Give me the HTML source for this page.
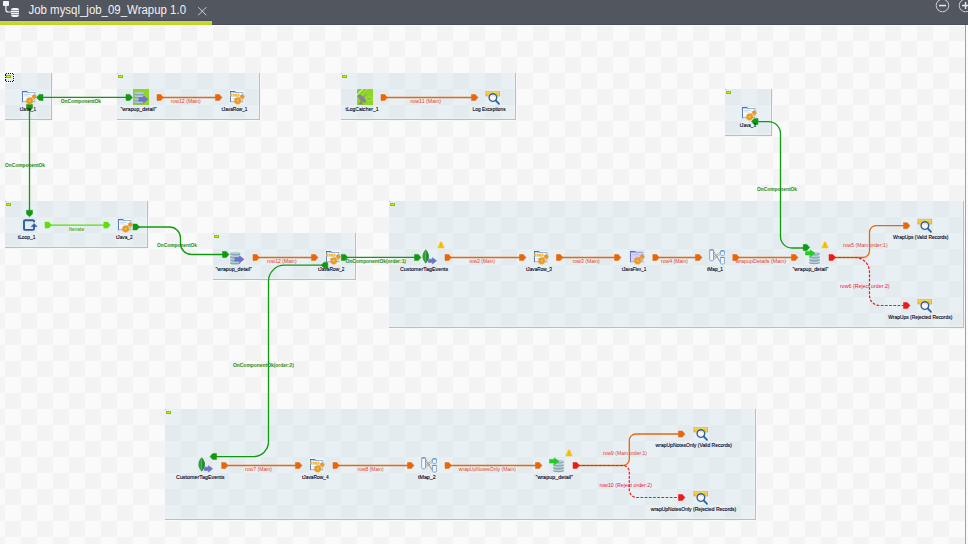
<!DOCTYPE html>
<html><head><meta charset="utf-8"><title>Job mysql_job_09_Wrapup 1.0</title>
<style>html,body{margin:0;padding:0;background:#f9f9f9;overflow:hidden;width:968px;height:544px}svg{display:block}</style>
</head><body>
<svg width="968" height="544" viewBox="0 0 968 544">
<defs>
<pattern id="chk" x="5" y="25" width="32" height="32" patternUnits="userSpaceOnUse">
<rect width="32" height="32" fill="#fafafa"/><rect x="16" width="16" height="16" fill="#f3f3f3"/><rect y="16" width="16" height="16" fill="#f3f3f3"/>
</pattern>
<pattern id="bchk" x="5" y="25" width="32" height="32" patternUnits="userSpaceOnUse">
<rect width="32" height="32" fill="#e9f0f4"/><rect x="16" width="16" height="16" fill="#e4ebef"/><rect y="16" width="16" height="16" fill="#e4ebef"/>
</pattern>
<linearGradient id="gbar" x1="0" y1="0" x2="0" y2="1"><stop offset="0" stop-color="#c8df2c"/><stop offset="1" stop-color="#bdd424"/></linearGradient>
</defs>
<rect x="0" y="25" width="968" height="519" fill="url(#chk)"/>
<rect x="965" y="25" width="1" height="519" fill="#a2a2a2"/>
<rect x="966" y="25" width="2" height="519" fill="#fbfbfb"/>
<rect x="0" y="0" width="968" height="25" fill="#52565f"/>
<rect x="0" y="20" width="212" height="1" fill="#4a4c66"/>
<rect x="0" y="21" width="212" height="4" fill="url(#gbar)"/>
<rect x="212" y="24" width="756" height="1" fill="#4a4d5a"/>
<rect x="0" y="25" width="965" height="1" fill="#fafafd"/>
<rect x="3" y="1" width="6" height="5" rx="0.8" fill="#f4f4f4"/>
<path d="M5.9,6 V10 Q5.9,12 8.5,12 H11" fill="none" stroke="#f4f4f4" stroke-width="1.2"/>
<rect x="11" y="8" width="8" height="9" rx="2.2" fill="#f4f4f4"/>
<rect x="11" y="10.3" width="8" height="0.6" fill="#595c66"/>
<rect x="11" y="12.3" width="8" height="0.6" fill="#595c66"/>
<rect x="11" y="14.3" width="8" height="0.6" fill="#595c66"/>
<text x="28.5" y="14" font-family='"Liberation Sans", sans-serif' font-size="12.5" fill="#f2f2f2" textLength="157.5" lengthAdjust="spacingAndGlyphs">Job mysql_job_09_Wrapup 1.0</text>
<path d="M198.3,7.2 L206.3,15.2 M206.3,7.2 L198.3,15.2" stroke="#d2d2d4" stroke-width="1"/>
<circle cx="942.5" cy="5.5" r="6.3" fill="none" stroke="#cfd0d3" stroke-width="1"/>
<rect x="939" y="4.8" width="7" height="1.5" fill="#e8e8e8"/>
<circle cx="965.5" cy="5.5" r="6.3" fill="none" stroke="#cfd0d3" stroke-width="1"/>
<rect x="962" y="4.8" width="7" height="1.5" fill="#e8e8e8"/>
<rect x="964.8" y="2" width="1.5" height="7" fill="#e8e8e8"/>
<rect x="5" y="73" width="47" height="47" fill="url(#bchk)"/>
<rect x="50" y="73" width="1" height="46" fill="#edf2f5" opacity="0.8"/>
<rect x="5" y="118" width="46" height="1" fill="#edf2f5" opacity="0.8"/>
<rect x="51" y="73" width="1" height="47" fill="#adc2cf"/>
<rect x="5" y="119" width="47" height="1" fill="#adc2cf"/>
<rect x="5" y="73" width="1" height="1" fill="#b0c4d0"/>
<rect x="6" y="75" width="5" height="3" rx="0.6" fill="#86c000"/>
<rect x="7" y="76" width="3" height="1" fill="#c4ff10"/>
<rect x="117" y="73" width="143" height="47" fill="url(#bchk)"/>
<rect x="258" y="73" width="1" height="46" fill="#edf2f5" opacity="0.8"/>
<rect x="117" y="118" width="142" height="1" fill="#edf2f5" opacity="0.8"/>
<rect x="259" y="73" width="1" height="47" fill="#adc2cf"/>
<rect x="117" y="119" width="143" height="1" fill="#adc2cf"/>
<rect x="117" y="73" width="1" height="1" fill="#b0c4d0"/>
<rect x="118" y="75" width="5" height="3" rx="0.6" fill="#86c000"/>
<rect x="119" y="76" width="3" height="1" fill="#c4ff10"/>
<rect x="341" y="73" width="175" height="47" fill="url(#bchk)"/>
<rect x="514" y="73" width="1" height="46" fill="#edf2f5" opacity="0.8"/>
<rect x="341" y="118" width="174" height="1" fill="#edf2f5" opacity="0.8"/>
<rect x="515" y="73" width="1" height="47" fill="#adc2cf"/>
<rect x="341" y="119" width="175" height="1" fill="#adc2cf"/>
<rect x="341" y="73" width="1" height="1" fill="#b0c4d0"/>
<rect x="342" y="75" width="5" height="3" rx="0.6" fill="#86c000"/>
<rect x="343" y="76" width="3" height="1" fill="#c4ff10"/>
<rect x="725" y="89" width="47" height="47" fill="url(#bchk)"/>
<rect x="770" y="89" width="1" height="46" fill="#edf2f5" opacity="0.8"/>
<rect x="725" y="134" width="46" height="1" fill="#edf2f5" opacity="0.8"/>
<rect x="771" y="89" width="1" height="47" fill="#adc2cf"/>
<rect x="725" y="135" width="47" height="1" fill="#adc2cf"/>
<rect x="725" y="89" width="1" height="1" fill="#b0c4d0"/>
<rect x="726" y="91" width="5" height="3" rx="0.6" fill="#86c000"/>
<rect x="727" y="92" width="3" height="1" fill="#c4ff10"/>
<rect x="5" y="201" width="143" height="47" fill="url(#bchk)"/>
<rect x="146" y="201" width="1" height="46" fill="#edf2f5" opacity="0.8"/>
<rect x="5" y="246" width="142" height="1" fill="#edf2f5" opacity="0.8"/>
<rect x="147" y="201" width="1" height="47" fill="#adc2cf"/>
<rect x="5" y="247" width="143" height="1" fill="#adc2cf"/>
<rect x="5" y="201" width="1" height="1" fill="#b0c4d0"/>
<rect x="6" y="203" width="5" height="3" rx="0.6" fill="#86c000"/>
<rect x="7" y="204" width="3" height="1" fill="#c4ff10"/>
<rect x="213" y="233" width="143" height="47" fill="url(#bchk)"/>
<rect x="354" y="233" width="1" height="46" fill="#edf2f5" opacity="0.8"/>
<rect x="213" y="278" width="142" height="1" fill="#edf2f5" opacity="0.8"/>
<rect x="355" y="233" width="1" height="47" fill="#adc2cf"/>
<rect x="213" y="279" width="143" height="1" fill="#adc2cf"/>
<rect x="213" y="233" width="1" height="1" fill="#b0c4d0"/>
<rect x="214" y="235" width="5" height="3" rx="0.6" fill="#86c000"/>
<rect x="215" y="236" width="3" height="1" fill="#c4ff10"/>
<rect x="389" y="201" width="575" height="127" fill="url(#bchk)"/>
<rect x="962" y="201" width="1" height="126" fill="#edf2f5" opacity="0.8"/>
<rect x="389" y="326" width="574" height="1" fill="#edf2f5" opacity="0.8"/>
<rect x="963" y="201" width="1" height="127" fill="#adc2cf"/>
<rect x="389" y="327" width="575" height="1" fill="#adc2cf"/>
<rect x="389" y="201" width="1" height="1" fill="#b0c4d0"/>
<rect x="390" y="203" width="5" height="3" rx="0.6" fill="#86c000"/>
<rect x="391" y="204" width="3" height="1" fill="#c4ff10"/>
<rect x="165" y="409" width="591" height="111" fill="url(#bchk)"/>
<rect x="754" y="409" width="1" height="110" fill="#edf2f5" opacity="0.8"/>
<rect x="165" y="518" width="590" height="1" fill="#edf2f5" opacity="0.8"/>
<rect x="755" y="409" width="1" height="111" fill="#adc2cf"/>
<rect x="165" y="519" width="591" height="1" fill="#adc2cf"/>
<rect x="165" y="409" width="1" height="1" fill="#b0c4d0"/>
<rect x="166" y="411" width="5" height="3" rx="0.6" fill="#86c000"/>
<rect x="167" y="412" width="3" height="1" fill="#c4ff10"/>
<rect x="5" y="73" width="9" height="9" fill="none" stroke="#ffffff" stroke-width="1.2" opacity="0.8"/>
<rect x="6" y="73" width="1" height="1" fill="#101010"/>
<rect x="8" y="73" width="1" height="1" fill="#101010"/>
<rect x="10" y="73" width="1" height="1" fill="#101010"/>
<rect x="12" y="73" width="1" height="1" fill="#101010"/>
<rect x="6" y="81" width="1" height="1" fill="#101010"/>
<rect x="8" y="81" width="1" height="1" fill="#101010"/>
<rect x="10" y="81" width="1" height="1" fill="#101010"/>
<rect x="12" y="81" width="1" height="1" fill="#101010"/>
<rect x="5" y="75" width="1" height="1" fill="#101010"/>
<rect x="5" y="77" width="1" height="1" fill="#101010"/>
<rect x="5" y="79" width="1" height="1" fill="#101010"/>
<rect x="13" y="74" width="1" height="1" fill="#101010"/>
<rect x="13" y="76" width="1" height="1" fill="#101010"/>
<rect x="13" y="78" width="1" height="1" fill="#101010"/>
<rect x="13" y="80" width="1" height="1" fill="#101010"/>
<rect x="5" y="80" width="1" height="1" fill="#101010"/>
<rect x="5" y="74" width="1" height="1" fill="#101010"/>
<path d="M42,97.4 H127" fill="none" stroke="#109a10" stroke-width="1.3"/>
<polygon points="43.0,94.4 39.2,94.4 36.5,97.4 39.2,100.4 43.0,100.4" fill="#109a10" stroke="#109a10" stroke-width="0.5" stroke-linejoin="round"/>
<polygon points="126.0,94.4 129.8,94.4 132.5,97.4 129.8,100.4 126.0,100.4" fill="#109a10" stroke="#109a10" stroke-width="0.5" stroke-linejoin="round"/>
<path d="M29.5,108 V211" fill="none" stroke="#109a10" stroke-width="1.3"/>
<polygon points="26.5,104.5 26.5,108.3 29.5,111.0 32.5,108.3 32.5,104.5" fill="#109a10" stroke="#109a10" stroke-width="0.5" stroke-linejoin="round"/>
<polygon points="26.5,210.3 26.5,214.1 29.5,216.8 32.5,214.1 32.5,210.3" fill="#109a10" stroke="#109a10" stroke-width="0.5" stroke-linejoin="round"/>
<path d="M50,225.1 H105.3" fill="none" stroke="#5ede0c" stroke-width="1.3"/>
<polygon points="45.0,222.1 48.8,222.1 51.5,225.1 48.8,228.1 45.0,228.1" fill="#5ede0c" stroke="#5ede0c" stroke-width="0.5" stroke-linejoin="round"/>
<polygon points="103.8,222.1 107.6,222.1 110.3,225.1 107.6,228.1 103.8,228.1" fill="#5ede0c" stroke="#5ede0c" stroke-width="0.5" stroke-linejoin="round"/>
<path d="M138,227 H169.5 A11,11 0 0 1 180.5,238 V243.5 A11,11 0 0 0 191.5,254.5 H223" fill="none" stroke="#109a10" stroke-width="1.3"/>
<polygon points="133.0,224.0 136.8,224.0 139.5,227.0 136.8,230.0 133.0,230.0" fill="#109a10" stroke="#109a10" stroke-width="0.5" stroke-linejoin="round"/>
<polygon points="222.5,251.5 226.3,251.5 229.0,254.5 226.3,257.5 222.5,257.5" fill="#109a10" stroke="#109a10" stroke-width="0.5" stroke-linejoin="round"/>
<path d="M346,257.4 H415" fill="none" stroke="#109a10" stroke-width="1.3"/>
<polygon points="341.3,254.4 345.1,254.4 347.8,257.4 345.1,260.4 341.3,260.4" fill="#109a10" stroke="#109a10" stroke-width="0.5" stroke-linejoin="round"/>
<polygon points="414.5,254.4 418.3,254.4 421.0,257.4 418.3,260.4 414.5,260.4" fill="#109a10" stroke="#109a10" stroke-width="0.5" stroke-linejoin="round"/>
<path d="M322,265.2 H284.5 A16,16 0 0 0 268.5,281.2 V441.6 A15,15 0 0 1 253.5,456.6 H215" fill="none" stroke="#109a10" stroke-width="1.3"/>
<polygon points="327.8,262.2 324.0,262.2 321.3,265.2 324.0,268.2 327.8,268.2" fill="#109a10" stroke="#109a10" stroke-width="0.5" stroke-linejoin="round"/>
<polygon points="216.5,453.6 212.7,453.6 210.0,456.6 212.7,459.6 216.5,459.6" fill="#109a10" stroke="#109a10" stroke-width="0.5" stroke-linejoin="round"/>
<path d="M757,121.6 H768.5 A12,12 0 0 1 780.5,133.6 V236.5 A11.5,11.5 0 0 0 792,248 H804" fill="none" stroke="#109a10" stroke-width="1.3"/>
<polygon points="758.0,118.6 754.2,118.6 751.5,121.6 754.2,124.6 758.0,124.6" fill="#109a10" stroke="#109a10" stroke-width="0.5" stroke-linejoin="round"/>
<polygon points="803.2,244.5 807.0,244.5 809.7,247.5 807.0,250.5 803.2,250.5" fill="#109a10" stroke="#109a10" stroke-width="0.5" stroke-linejoin="round"/>
<path d="M162,97.5 H217" fill="none" stroke="#e8670a" stroke-width="1.3"/>
<polygon points="157.0,94.5 160.8,94.5 163.5,97.5 160.8,100.5 157.0,100.5" fill="#e8670a" stroke="#e8670a" stroke-width="0.5" stroke-linejoin="round"/>
<polygon points="215.5,94.5 219.3,94.5 222.0,97.5 219.3,100.5 215.5,100.5" fill="#e8670a" stroke="#e8670a" stroke-width="0.5" stroke-linejoin="round"/>
<path d="M386,97.5 H473" fill="none" stroke="#e8670a" stroke-width="1.3"/>
<polygon points="381.0,94.5 384.8,94.5 387.5,97.5 384.8,100.5 381.0,100.5" fill="#e8670a" stroke="#e8670a" stroke-width="0.5" stroke-linejoin="round"/>
<polygon points="471.5,94.5 475.3,94.5 478.0,97.5 475.3,100.5 471.5,100.5" fill="#e8670a" stroke="#e8670a" stroke-width="0.5" stroke-linejoin="round"/>
<path d="M258,257.5 H313" fill="none" stroke="#e8670a" stroke-width="1.3"/>
<polygon points="253.0,254.5 256.8,254.5 259.5,257.5 256.8,260.5 253.0,260.5" fill="#e8670a" stroke="#e8670a" stroke-width="0.5" stroke-linejoin="round"/>
<polygon points="311.5,254.5 315.3,254.5 318.0,257.5 315.3,260.5 311.5,260.5" fill="#e8670a" stroke="#e8670a" stroke-width="0.5" stroke-linejoin="round"/>
<path d="M450,257.5 H521" fill="none" stroke="#e8670a" stroke-width="1.3"/>
<polygon points="445.0,254.5 448.8,254.5 451.5,257.5 448.8,260.5 445.0,260.5" fill="#e8670a" stroke="#e8670a" stroke-width="0.5" stroke-linejoin="round"/>
<polygon points="519.5,254.5 523.3,254.5 526.0,257.5 523.3,260.5 519.5,260.5" fill="#e8670a" stroke="#e8670a" stroke-width="0.5" stroke-linejoin="round"/>
<path d="M561.5,257.5 H616" fill="none" stroke="#e8670a" stroke-width="1.3"/>
<polygon points="556.5,254.5 560.3,254.5 563.0,257.5 560.3,260.5 556.5,260.5" fill="#e8670a" stroke="#e8670a" stroke-width="0.5" stroke-linejoin="round"/>
<polygon points="614.5,254.5 618.3,254.5 621.0,257.5 618.3,260.5 614.5,260.5" fill="#e8670a" stroke="#e8670a" stroke-width="0.5" stroke-linejoin="round"/>
<path d="M657.8,257.5 H697" fill="none" stroke="#e8670a" stroke-width="1.3"/>
<polygon points="652.8,254.5 656.6,254.5 659.3,257.5 656.6,260.5 652.8,260.5" fill="#e8670a" stroke="#e8670a" stroke-width="0.5" stroke-linejoin="round"/>
<polygon points="695.5,254.5 699.3,254.5 702.0,257.5 699.3,260.5 695.5,260.5" fill="#e8670a" stroke="#e8670a" stroke-width="0.5" stroke-linejoin="round"/>
<path d="M737.8,257.5 H793" fill="none" stroke="#e8670a" stroke-width="1.3"/>
<polygon points="732.8,254.5 736.6,254.5 739.3,257.5 736.6,260.5 732.8,260.5" fill="#e8670a" stroke="#e8670a" stroke-width="0.5" stroke-linejoin="round"/>
<polygon points="791.5,254.5 795.3,254.5 798.0,257.5 795.3,260.5 791.5,260.5" fill="#e8670a" stroke="#e8670a" stroke-width="0.5" stroke-linejoin="round"/>
<path d="M226.6,465.5 H297" fill="none" stroke="#e8670a" stroke-width="1.3"/>
<polygon points="221.6,462.5 225.4,462.5 228.1,465.5 225.4,468.5 221.6,468.5" fill="#e8670a" stroke="#e8670a" stroke-width="0.5" stroke-linejoin="round"/>
<polygon points="295.5,462.5 299.3,462.5 302.0,465.5 299.3,468.5 295.5,468.5" fill="#e8670a" stroke="#e8670a" stroke-width="0.5" stroke-linejoin="round"/>
<path d="M338,465.5 H409" fill="none" stroke="#e8670a" stroke-width="1.3"/>
<polygon points="333.0,462.5 336.8,462.5 339.5,465.5 336.8,468.5 333.0,468.5" fill="#e8670a" stroke="#e8670a" stroke-width="0.5" stroke-linejoin="round"/>
<polygon points="407.5,462.5 411.3,462.5 414.0,465.5 411.3,468.5 407.5,468.5" fill="#e8670a" stroke="#e8670a" stroke-width="0.5" stroke-linejoin="round"/>
<path d="M450,465.5 H537" fill="none" stroke="#e8670a" stroke-width="1.3"/>
<polygon points="445.0,462.5 448.8,462.5 451.5,465.5 448.8,468.5 445.0,468.5" fill="#e8670a" stroke="#e8670a" stroke-width="0.5" stroke-linejoin="round"/>
<polygon points="535.5,462.5 539.3,462.5 542.0,465.5 539.3,468.5 535.5,468.5" fill="#e8670a" stroke="#e8670a" stroke-width="0.5" stroke-linejoin="round"/>
<path d="M834,257.5 H863 A6.5,6.5 0 0 0 869.5,251 V232.2 A6.5,6.5 0 0 1 876,225.7 H904" fill="none" stroke="#e8670a" stroke-width="1.3"/>
<polygon points="903.5,222.7 907.3,222.7 910.0,225.7 907.3,228.7 903.5,228.7" fill="#e8670a" stroke="#e8670a" stroke-width="0.5" stroke-linejoin="round"/>
<path d="M834,257.5 H855 A14.5,14.5 0 0 1 869.5,272 V295.5 A10,10 0 0 0 879.5,305.5 H904" fill="none" stroke="#f01818" stroke-width="1.2" stroke-dasharray="2.7,1.5"/>
<polygon points="903.5,302.5 907.3,302.5 910.0,305.5 907.3,308.5 903.5,308.5" fill="#f01818" stroke="#f01818" stroke-width="0.5" stroke-linejoin="round"/>
<polygon points="829.0,254.5 832.8,254.5 835.5,257.5 832.8,260.5 829.0,260.5" fill="#f01818" stroke="#f01818" stroke-width="0.5" stroke-linejoin="round"/>
<path d="M578,465.5 H623 A6.3,6.3 0 0 0 629.3,459.2 V440.5 A6.5,6.5 0 0 1 635.8,434 H679" fill="none" stroke="#e8670a" stroke-width="1.3"/>
<polygon points="678.5,431.0 682.3,431.0 685.0,434.0 682.3,437.0 678.5,437.0" fill="#e8670a" stroke="#e8670a" stroke-width="0.5" stroke-linejoin="round"/>
<path d="M578,465.5 H623 A6.3,6.3 0 0 1 629.3,471.8 V490 A7.5,7.5 0 0 0 636.8,497.5 H679" fill="none" stroke="#f01818" stroke-width="1.2" stroke-dasharray="2.7,1.5"/>
<polygon points="678.5,494.5 682.3,494.5 685.0,497.5 682.3,500.5 678.5,500.5" fill="#f01818" stroke="#f01818" stroke-width="0.5" stroke-linejoin="round"/>
<polygon points="573.0,462.5 576.8,462.5 579.5,465.5 576.8,468.5 573.0,468.5" fill="#f01818" stroke="#f01818" stroke-width="0.5" stroke-linejoin="round"/>
<rect x="22" y="91" width="13.2" height="11.1" fill="#ffffff"/>
<rect x="34.2" y="92" width="1" height="10.1" fill="#a9c3e6"/>
<rect x="22" y="101.1" width="13.2" height="1" fill="#9fb7d8"/>
<rect x="22" y="91" width="1" height="11.1" fill="#5a82c2"/>
<rect x="27" y="92" width="8.2" height="1" fill="#8fb2e2"/>
<rect x="22" y="91" width="5.5" height="1.3" fill="#4676bd"/>
<rect x="23.5" y="93.8" width="7" height="0.8" fill="#aec2e2"/>
<rect x="23.5" y="95.6" width="5" height="0.8" fill="#c4d2ea"/>
<circle cx="34.1" cy="96.7" r="2.1" fill="#e89a26"/>
<circle cx="34.1" cy="96.7" r="2.3" fill="none" stroke="#e89a26" stroke-width="0.9" stroke-dasharray="0.9,0.9"/>
<circle cx="29.7" cy="100.7" r="3.25" fill="#e89a26"/>
<circle cx="29.7" cy="100.7" r="3.55" fill="none" stroke="#e89a26" stroke-width="1" stroke-dasharray="1.1,1.1"/>
<circle cx="29.7" cy="100.7" r="1.3" fill="#eeb456"/>
<rect x="133" y="89" width="16" height="16" fill="#8fd524"/>
<rect x="134" y="101.39999999999999" width="10.5" height="3.0" rx="5.25" ry="1.6" fill="#86a8b6"/>
<ellipse cx="139.25" cy="102.0" rx="4.85" ry="1.0" fill="#b6ccd6"/>
<rect x="134" y="98.39999999999999" width="10.5" height="3.0" rx="5.25" ry="1.6" fill="#86a8b6"/>
<ellipse cx="139.25" cy="99.0" rx="4.85" ry="1.0" fill="#b6ccd6"/>
<rect x="134" y="95.39999999999999" width="10.5" height="3.0" rx="5.25" ry="1.6" fill="#86a8b6"/>
<ellipse cx="139.25" cy="96.0" rx="4.85" ry="1.0" fill="#b6ccd6"/>
<rect x="134" y="92.39999999999999" width="10.5" height="3.0" rx="5.25" ry="1.6" fill="#86a8b6"/>
<ellipse cx="139.25" cy="93.0" rx="4.85" ry="1.0" fill="#b6ccd6"/>
<polygon points="138.9,97.50399999999999 143.5,97.50399999999999 143.5,95.8 148.1,99.35 143.5,102.9 143.5,101.196 138.9,101.196" fill="#6e72c8" stroke="#6e72c8" stroke-width="0.6" stroke-linejoin="round"/>
<rect x="230" y="91" width="13.2" height="11.1" fill="#ffffff"/>
<rect x="242.2" y="92" width="1" height="10.1" fill="#a9c3e6"/>
<rect x="230" y="101.1" width="13.2" height="1" fill="#9fb7d8"/>
<rect x="230" y="91" width="1" height="11.1" fill="#5a82c2"/>
<rect x="235" y="92" width="8.2" height="1" fill="#8fb2e2"/>
<rect x="230" y="91" width="5.5" height="1.3" fill="#4676bd"/>
<rect x="230.3" y="93.6" width="2.1" height="2.4" fill="#f5c030"/>
<rect x="232.65" y="93.6" width="2.1" height="2.4" fill="#f5c030"/>
<rect x="235.0" y="93.6" width="2.1" height="2.4" fill="#f5c030"/>
<rect x="237.35000000000002" y="93.6" width="2.1" height="2.4" fill="#f5c030"/>
<rect x="230.2" y="96" width="9.2" height="0.5" fill="#c7b070"/>
<rect x="232" y="98" width="4" height="0.7" fill="#c8d6ea"/>
<circle cx="242.1" cy="96.7" r="2.1" fill="#e89a26"/>
<circle cx="242.1" cy="96.7" r="2.3" fill="none" stroke="#e89a26" stroke-width="0.9" stroke-dasharray="0.9,0.9"/>
<circle cx="237.7" cy="100.7" r="3.25" fill="#e89a26"/>
<circle cx="237.7" cy="100.7" r="3.55" fill="none" stroke="#e89a26" stroke-width="1" stroke-dasharray="1.1,1.1"/>
<circle cx="237.7" cy="100.7" r="1.3" fill="#eeb456"/>
<clipPath id="lc357"><rect x="357" y="89" width="16" height="16"/></clipPath><g clip-path="url(#lc357)">
<rect x="357" y="89" width="16" height="16" fill="#8fd524"/>
<polygon points="357,89 367.5,89 357,99.5" fill="#b4e66c"/>
<path d="M357,92.8 Q358,90 360.8,89" fill="none" stroke="#7cc618" stroke-width="1.7"/>
<path d="M357,97.2 Q361.4,94 365.4,89" fill="none" stroke="#7cc618" stroke-width="1.7"/>
<g transform="translate(361.9,98.6) rotate(45)"><ellipse cx="0" cy="0" rx="5.2" ry="2.3" fill="#86868c"/></g>
<path d="M362.4,98.2 L365.8,94.9" stroke="#86868c" stroke-width="0.9"/>
<circle cx="365.9" cy="94.8" r="0.9" fill="#9a9aa4"/>
<polygon points="358.2,104.4 360.9,100.6 363.4,104.4" fill="#86868c"/>
<path d="M366.4,98.6 Q367.5,97 369,97 Q371,97 372.6,98.6 Q371,100.2 369,100.2 Q367.5,100.2 366.4,98.6 Z" fill="#7cc412" stroke="#bde880" stroke-width="0.7"/>
</g>
<rect x="485.9" y="91.3" width="13.8" height="4.7" fill="#f6c83c" stroke="#d9a628" stroke-width="0.7"/>
<rect x="489.34999999999997" y="91.3" width="0.6" height="4.7" fill="#e0b034"/>
<rect x="492.79999999999995" y="91.3" width="0.6" height="4.7" fill="#e0b034"/>
<rect x="496.25" y="91.3" width="0.6" height="4.7" fill="#e0b034"/>
<rect x="486.3" y="91.7" width="13" height="0.8" fill="#fbe08a"/>
<circle cx="492.9" cy="97.6" r="3.8" fill="#ffffff" fill-opacity="0.6" stroke="#2c62a4" stroke-width="1.4"/>
<path d="M495.7,100.4 L499,103.8" stroke="#2c62a4" stroke-width="1.8" stroke-linecap="round"/>
<rect x="742" y="107" width="13.2" height="11.1" fill="#ffffff"/>
<rect x="754.2" y="108" width="1" height="10.1" fill="#a9c3e6"/>
<rect x="742" y="117.1" width="13.2" height="1" fill="#9fb7d8"/>
<rect x="742" y="107" width="1" height="11.1" fill="#5a82c2"/>
<rect x="747" y="108" width="8.2" height="1" fill="#8fb2e2"/>
<rect x="742" y="107" width="5.5" height="1.3" fill="#4676bd"/>
<rect x="743.5" y="109.8" width="7" height="0.8" fill="#aec2e2"/>
<rect x="743.5" y="111.6" width="5" height="0.8" fill="#c4d2ea"/>
<circle cx="754.1" cy="112.7" r="2.1" fill="#e89a26"/>
<circle cx="754.1" cy="112.7" r="2.3" fill="none" stroke="#e89a26" stroke-width="0.9" stroke-dasharray="0.9,0.9"/>
<circle cx="749.7" cy="116.7" r="3.25" fill="#e89a26"/>
<circle cx="749.7" cy="116.7" r="3.55" fill="none" stroke="#e89a26" stroke-width="1" stroke-dasharray="1.1,1.1"/>
<circle cx="749.7" cy="116.7" r="1.3" fill="#eeb456"/>
<path d="M34,222.2 V221.3 Q34,220.2 32.9,220.2 H25.1 Q24,220.2 24,221.3 V228.8 Q24,229.9 25.1,229.9 H32.9 Q34,229.9 34,228.8 V226" fill="none" stroke="#2b5fa0" stroke-width="1.9"/>
<polygon points="31.2,226.6 34.1,223.6 37,226.6" fill="#2b5fa0" stroke="#2b5fa0" stroke-width="0.6" stroke-linejoin="round"/>
<rect x="118" y="219" width="13.2" height="11.1" fill="#ffffff"/>
<rect x="130.2" y="220" width="1" height="10.1" fill="#a9c3e6"/>
<rect x="118" y="229.1" width="13.2" height="1" fill="#9fb7d8"/>
<rect x="118" y="219" width="1" height="11.1" fill="#5a82c2"/>
<rect x="123" y="220" width="8.2" height="1" fill="#8fb2e2"/>
<rect x="118" y="219" width="5.5" height="1.3" fill="#4676bd"/>
<rect x="119.5" y="221.8" width="7" height="0.8" fill="#aec2e2"/>
<rect x="119.5" y="223.6" width="5" height="0.8" fill="#c4d2ea"/>
<circle cx="130.1" cy="224.7" r="2.1" fill="#e89a26"/>
<circle cx="130.1" cy="224.7" r="2.3" fill="none" stroke="#e89a26" stroke-width="0.9" stroke-dasharray="0.9,0.9"/>
<circle cx="125.7" cy="228.7" r="3.25" fill="#e89a26"/>
<circle cx="125.7" cy="228.7" r="3.55" fill="none" stroke="#e89a26" stroke-width="1" stroke-dasharray="1.1,1.1"/>
<circle cx="125.7" cy="228.7" r="1.3" fill="#eeb456"/>
<rect x="230" y="261.40000000000003" width="10.5" height="3.0" rx="5.25" ry="1.6" fill="#86a8b6"/>
<ellipse cx="235.25" cy="262.0" rx="4.85" ry="1.0" fill="#b6ccd6"/>
<rect x="230" y="258.40000000000003" width="10.5" height="3.0" rx="5.25" ry="1.6" fill="#86a8b6"/>
<ellipse cx="235.25" cy="259.0" rx="4.85" ry="1.0" fill="#b6ccd6"/>
<rect x="230" y="255.4" width="10.5" height="3.0" rx="5.25" ry="1.6" fill="#86a8b6"/>
<ellipse cx="235.25" cy="256.0" rx="4.85" ry="1.0" fill="#b6ccd6"/>
<rect x="230" y="252.4" width="10.5" height="3.0" rx="5.25" ry="1.6" fill="#86a8b6"/>
<ellipse cx="235.25" cy="253.0" rx="4.85" ry="1.0" fill="#b6ccd6"/>
<polygon points="234.9,257.504 239.5,257.504 239.5,255.8 244.1,259.35 239.5,262.9 239.5,261.196 234.9,261.196" fill="#6e72c8" stroke="#6e72c8" stroke-width="0.6" stroke-linejoin="round"/>
<rect x="326" y="251" width="13.2" height="11.1" fill="#ffffff"/>
<rect x="338.2" y="252" width="1" height="10.1" fill="#a9c3e6"/>
<rect x="326" y="261.1" width="13.2" height="1" fill="#9fb7d8"/>
<rect x="326" y="251" width="1" height="11.1" fill="#5a82c2"/>
<rect x="331" y="252" width="8.2" height="1" fill="#8fb2e2"/>
<rect x="326" y="251" width="5.5" height="1.3" fill="#4676bd"/>
<rect x="326.3" y="253.6" width="2.1" height="2.4" fill="#f5c030"/>
<rect x="328.65000000000003" y="253.6" width="2.1" height="2.4" fill="#f5c030"/>
<rect x="331.0" y="253.6" width="2.1" height="2.4" fill="#f5c030"/>
<rect x="333.35" y="253.6" width="2.1" height="2.4" fill="#f5c030"/>
<rect x="326.2" y="256" width="9.2" height="0.5" fill="#c7b070"/>
<rect x="328" y="258" width="4" height="0.7" fill="#c8d6ea"/>
<circle cx="338.1" cy="256.7" r="2.1" fill="#e89a26"/>
<circle cx="338.1" cy="256.7" r="2.3" fill="none" stroke="#e89a26" stroke-width="0.9" stroke-dasharray="0.9,0.9"/>
<circle cx="333.7" cy="260.7" r="3.25" fill="#e89a26"/>
<circle cx="333.7" cy="260.7" r="3.55" fill="none" stroke="#e89a26" stroke-width="1" stroke-dasharray="1.1,1.1"/>
<circle cx="333.7" cy="260.7" r="1.3" fill="#eeb456"/>
<path d="M425.6,249.6 C429.8,253.6 429.8,259.4 425.6,263.4 C421.4,259.4 421.4,253.6 425.6,249.6 Z" fill="#2f9e3b"/>
<path d="M425.6,249.6 C429.8,253.6 429.8,259.4 425.6,263.4 Z" fill="#228a30"/>
<path d="M425.6,251 V262" stroke="#6cc870" stroke-width="0.7"/>
<polygon points="428.2,259.136 432.4,259.136 432.4,257.6 436.6,260.8 432.4,264 432.4,262.464 428.2,262.464" fill="#6e72c8" stroke="#6e72c8" stroke-width="0.6" stroke-linejoin="round"/>
<polygon points="440.3,242 441.7,242 444.2,248 437.8,248" fill="#fbc800" stroke="#f4bc00" stroke-width="0.5" stroke-linejoin="round"/>
<rect x="440.4" y="244.1" width="1.2" height="0.9" fill="#d2a000"/>
<rect x="440.4" y="246.0" width="1.2" height="0.9" fill="#d2a000"/>
<rect x="534" y="251" width="13.2" height="11.1" fill="#ffffff"/>
<rect x="546.2" y="252" width="1" height="10.1" fill="#a9c3e6"/>
<rect x="534" y="261.1" width="13.2" height="1" fill="#9fb7d8"/>
<rect x="534" y="251" width="1" height="11.1" fill="#5a82c2"/>
<rect x="539" y="252" width="8.2" height="1" fill="#8fb2e2"/>
<rect x="534" y="251" width="5.5" height="1.3" fill="#4676bd"/>
<rect x="534.3" y="253.6" width="2.1" height="2.4" fill="#f5c030"/>
<rect x="536.65" y="253.6" width="2.1" height="2.4" fill="#f5c030"/>
<rect x="539.0" y="253.6" width="2.1" height="2.4" fill="#f5c030"/>
<rect x="541.3499999999999" y="253.6" width="2.1" height="2.4" fill="#f5c030"/>
<rect x="534.2" y="256" width="9.2" height="0.5" fill="#c7b070"/>
<rect x="536" y="258" width="4" height="0.7" fill="#c8d6ea"/>
<circle cx="546.1" cy="256.7" r="2.1" fill="#e89a26"/>
<circle cx="546.1" cy="256.7" r="2.3" fill="none" stroke="#e89a26" stroke-width="0.9" stroke-dasharray="0.9,0.9"/>
<circle cx="541.7" cy="260.7" r="3.25" fill="#e89a26"/>
<circle cx="541.7" cy="260.7" r="3.55" fill="none" stroke="#e89a26" stroke-width="1" stroke-dasharray="1.1,1.1"/>
<circle cx="541.7" cy="260.7" r="1.3" fill="#eeb456"/>
<rect x="630" y="251" width="13.2" height="11.1" fill="#ecc8f6"/>
<rect x="642.2" y="252" width="1" height="10.1" fill="#a9c3e6"/>
<rect x="630" y="261.1" width="13.2" height="1" fill="#9fb7d8"/>
<rect x="630" y="251" width="1" height="11.1" fill="#5a82c2"/>
<rect x="635" y="252" width="8.2" height="1" fill="#8fb2e2"/>
<rect x="630" y="251" width="5.5" height="1.3" fill="#4676bd"/>
<rect x="631.5" y="253.8" width="7" height="0.8" fill="#aec2e2"/>
<rect x="631.5" y="255.6" width="5" height="0.8" fill="#c4d2ea"/>
<circle cx="642.1" cy="256.7" r="2.1" fill="#e89a26"/>
<circle cx="642.1" cy="256.7" r="2.3" fill="none" stroke="#e89a26" stroke-width="0.9" stroke-dasharray="0.9,0.9"/>
<circle cx="637.7" cy="260.7" r="3.25" fill="#e89a26"/>
<circle cx="637.7" cy="260.7" r="3.55" fill="none" stroke="#e89a26" stroke-width="1" stroke-dasharray="1.1,1.1"/>
<circle cx="637.7" cy="260.7" r="1.3" fill="#eeb456"/>
<path d="M713.6,250.8 L720.2,262.6 M713.6,253.4 L720.2,261 M713.6,257.6 L720.2,252 M713.6,259.6 L720.2,254" stroke="#8c8c8c" stroke-width="0.65"/>
<rect x="709.7" y="249.9" width="3.8" height="10.8" rx="0.9" fill="#fff" stroke="#78a6da" stroke-width="1"/>
<rect x="709.4000000000001" y="249.5" width="4.3999999999999995" height="1.1" rx="0.5" fill="#4f86c6"/>
<rect x="710.5" y="252.1" width="2.1999999999999997" height="0.45" fill="#d6dde6"/>
<rect x="710.5" y="253.9" width="2.1999999999999997" height="0.45" fill="#d6dde6"/>
<rect x="710.5" y="255.7" width="2.1999999999999997" height="0.45" fill="#d6dde6"/>
<rect x="710.5" y="257.5" width="2.1999999999999997" height="0.45" fill="#d6dde6"/>
<rect x="710.5" y="259.3" width="2.1999999999999997" height="0.45" fill="#d6dde6"/>
<rect x="720.6" y="250.8" width="3.8" height="4.6" rx="0.9" fill="#fff" stroke="#78a6da" stroke-width="1"/>
<rect x="720.3000000000001" y="250.4" width="4.3999999999999995" height="1.1" rx="0.5" fill="#4f86c6"/>
<rect x="721.4" y="253.0" width="2.1999999999999997" height="0.45" fill="#d6dde6"/>
<rect x="720.6" y="257.4" width="3.8" height="6.6" rx="0.9" fill="#fff" stroke="#78a6da" stroke-width="1"/>
<rect x="720.3000000000001" y="257.0" width="4.3999999999999995" height="1.1" rx="0.5" fill="#4f86c6"/>
<rect x="721.4" y="259.6" width="2.1999999999999997" height="0.45" fill="#d6dde6"/>
<rect x="721.4" y="261.4" width="2.1999999999999997" height="0.45" fill="#d6dde6"/>
<rect x="809" y="261.375" width="11" height="2.925" rx="5.5" ry="1.6" fill="#86a8b6"/>
<ellipse cx="814.5" cy="261.97499999999997" rx="5.1" ry="1.0" fill="#b6ccd6"/>
<rect x="809" y="258.45000000000005" width="11" height="2.925" rx="5.5" ry="1.6" fill="#86a8b6"/>
<ellipse cx="814.5" cy="259.05" rx="5.1" ry="1.0" fill="#b6ccd6"/>
<rect x="809" y="255.525" width="11" height="2.925" rx="5.5" ry="1.6" fill="#86a8b6"/>
<ellipse cx="814.5" cy="256.125" rx="5.1" ry="1.0" fill="#b6ccd6"/>
<rect x="809" y="252.6" width="11" height="2.925" rx="5.5" ry="1.6" fill="#86a8b6"/>
<ellipse cx="814.5" cy="253.2" rx="5.1" ry="1.0" fill="#b6ccd6"/>
<polygon points="805.5,251.456 810.25,251.456 810.25,249.8 815,253.25 810.25,256.7 810.25,255.044 805.5,255.044" fill="#22cc22" stroke="#22cc22" stroke-width="0.6" stroke-linejoin="round"/>
<polygon points="824.3,242 825.7,242 828.2,248 821.8,248" fill="#fbc800" stroke="#f4bc00" stroke-width="0.5" stroke-linejoin="round"/>
<rect x="824.4" y="244.1" width="1.2" height="0.9" fill="#d2a000"/>
<rect x="824.4" y="246.0" width="1.2" height="0.9" fill="#d2a000"/>
<rect x="917.9" y="219.3" width="13.8" height="4.7" fill="#f6c83c" stroke="#d9a628" stroke-width="0.7"/>
<rect x="921.35" y="219.3" width="0.6" height="4.7" fill="#e0b034"/>
<rect x="924.8" y="219.3" width="0.6" height="4.7" fill="#e0b034"/>
<rect x="928.25" y="219.3" width="0.6" height="4.7" fill="#e0b034"/>
<rect x="918.3" y="219.7" width="13" height="0.8" fill="#fbe08a"/>
<circle cx="924.9" cy="225.6" r="3.8" fill="#ffffff" fill-opacity="0.6" stroke="#2c62a4" stroke-width="1.4"/>
<path d="M927.7,228.4 L931,231.8" stroke="#2c62a4" stroke-width="1.8" stroke-linecap="round"/>
<rect x="917.9" y="299.3" width="13.8" height="4.7" fill="#f6c83c" stroke="#d9a628" stroke-width="0.7"/>
<rect x="921.35" y="299.3" width="0.6" height="4.7" fill="#e0b034"/>
<rect x="924.8" y="299.3" width="0.6" height="4.7" fill="#e0b034"/>
<rect x="928.25" y="299.3" width="0.6" height="4.7" fill="#e0b034"/>
<rect x="918.3" y="299.7" width="13" height="0.8" fill="#fbe08a"/>
<circle cx="924.9" cy="305.6" r="3.8" fill="#ffffff" fill-opacity="0.6" stroke="#2c62a4" stroke-width="1.4"/>
<path d="M927.7,308.4 L931,311.8" stroke="#2c62a4" stroke-width="1.8" stroke-linecap="round"/>
<path d="M201.6,457.6 C205.8,461.6 205.8,467.4 201.6,471.4 C197.4,467.4 197.4,461.6 201.6,457.6 Z" fill="#2f9e3b"/>
<path d="M201.6,457.6 C205.8,461.6 205.8,467.4 201.6,471.4 Z" fill="#228a30"/>
<path d="M201.6,459 V470" stroke="#6cc870" stroke-width="0.7"/>
<polygon points="204.2,467.136 208.4,467.136 208.4,465.6 212.6,468.8 208.4,472 208.4,470.464 204.2,470.464" fill="#6e72c8" stroke="#6e72c8" stroke-width="0.6" stroke-linejoin="round"/>
<rect x="310" y="459" width="13.2" height="11.1" fill="#ffffff"/>
<rect x="322.2" y="460" width="1" height="10.1" fill="#a9c3e6"/>
<rect x="310" y="469.1" width="13.2" height="1" fill="#9fb7d8"/>
<rect x="310" y="459" width="1" height="11.1" fill="#5a82c2"/>
<rect x="315" y="460" width="8.2" height="1" fill="#8fb2e2"/>
<rect x="310" y="459" width="5.5" height="1.3" fill="#4676bd"/>
<rect x="310.3" y="461.6" width="2.1" height="2.4" fill="#f5c030"/>
<rect x="312.65000000000003" y="461.6" width="2.1" height="2.4" fill="#f5c030"/>
<rect x="315.0" y="461.6" width="2.1" height="2.4" fill="#f5c030"/>
<rect x="317.35" y="461.6" width="2.1" height="2.4" fill="#f5c030"/>
<rect x="310.2" y="464" width="9.2" height="0.5" fill="#c7b070"/>
<rect x="312" y="466" width="4" height="0.7" fill="#c8d6ea"/>
<circle cx="322.1" cy="464.7" r="2.1" fill="#e89a26"/>
<circle cx="322.1" cy="464.7" r="2.3" fill="none" stroke="#e89a26" stroke-width="0.9" stroke-dasharray="0.9,0.9"/>
<circle cx="317.7" cy="468.7" r="3.25" fill="#e89a26"/>
<circle cx="317.7" cy="468.7" r="3.55" fill="none" stroke="#e89a26" stroke-width="1" stroke-dasharray="1.1,1.1"/>
<circle cx="317.7" cy="468.7" r="1.3" fill="#eeb456"/>
<path d="M425.6,458.8 L432.2,470.6 M425.6,461.4 L432.2,469 M425.6,465.6 L432.2,460 M425.6,467.6 L432.2,462" stroke="#8c8c8c" stroke-width="0.65"/>
<rect x="421.7" y="457.9" width="3.8" height="10.8" rx="0.9" fill="#fff" stroke="#78a6da" stroke-width="1"/>
<rect x="421.4" y="457.5" width="4.3999999999999995" height="1.1" rx="0.5" fill="#4f86c6"/>
<rect x="422.5" y="460.1" width="2.1999999999999997" height="0.45" fill="#d6dde6"/>
<rect x="422.5" y="461.9" width="2.1999999999999997" height="0.45" fill="#d6dde6"/>
<rect x="422.5" y="463.7" width="2.1999999999999997" height="0.45" fill="#d6dde6"/>
<rect x="422.5" y="465.5" width="2.1999999999999997" height="0.45" fill="#d6dde6"/>
<rect x="422.5" y="467.3" width="2.1999999999999997" height="0.45" fill="#d6dde6"/>
<rect x="432.6" y="458.8" width="3.8" height="4.6" rx="0.9" fill="#fff" stroke="#78a6da" stroke-width="1"/>
<rect x="432.3" y="458.40000000000003" width="4.3999999999999995" height="1.1" rx="0.5" fill="#4f86c6"/>
<rect x="433.40000000000003" y="461.0" width="2.1999999999999997" height="0.45" fill="#d6dde6"/>
<rect x="432.6" y="465.4" width="3.8" height="6.6" rx="0.9" fill="#fff" stroke="#78a6da" stroke-width="1"/>
<rect x="432.3" y="465.0" width="4.3999999999999995" height="1.1" rx="0.5" fill="#4f86c6"/>
<rect x="433.40000000000003" y="467.6" width="2.1999999999999997" height="0.45" fill="#d6dde6"/>
<rect x="433.40000000000003" y="469.4" width="2.1999999999999997" height="0.45" fill="#d6dde6"/>
<rect x="553" y="469.375" width="11" height="2.925" rx="5.5" ry="1.6" fill="#86a8b6"/>
<ellipse cx="558.5" cy="469.97499999999997" rx="5.1" ry="1.0" fill="#b6ccd6"/>
<rect x="553" y="466.45000000000005" width="11" height="2.925" rx="5.5" ry="1.6" fill="#86a8b6"/>
<ellipse cx="558.5" cy="467.05" rx="5.1" ry="1.0" fill="#b6ccd6"/>
<rect x="553" y="463.52500000000003" width="11" height="2.925" rx="5.5" ry="1.6" fill="#86a8b6"/>
<ellipse cx="558.5" cy="464.125" rx="5.1" ry="1.0" fill="#b6ccd6"/>
<rect x="553" y="460.6" width="11" height="2.925" rx="5.5" ry="1.6" fill="#86a8b6"/>
<ellipse cx="558.5" cy="461.2" rx="5.1" ry="1.0" fill="#b6ccd6"/>
<polygon points="549.5,459.456 554.25,459.456 554.25,457.8 559,461.25 554.25,464.7 554.25,463.044 549.5,463.044" fill="#22cc22" stroke="#22cc22" stroke-width="0.6" stroke-linejoin="round"/>
<polygon points="568.3,450 569.7,450 572.2,456 565.8,456" fill="#fbc800" stroke="#f4bc00" stroke-width="0.5" stroke-linejoin="round"/>
<rect x="568.4" y="452.1" width="1.2" height="0.9" fill="#d2a000"/>
<rect x="568.4" y="454.0" width="1.2" height="0.9" fill="#d2a000"/>
<rect x="693.9" y="427.3" width="13.8" height="4.7" fill="#f6c83c" stroke="#d9a628" stroke-width="0.7"/>
<rect x="697.35" y="427.3" width="0.6" height="4.7" fill="#e0b034"/>
<rect x="700.8" y="427.3" width="0.6" height="4.7" fill="#e0b034"/>
<rect x="704.25" y="427.3" width="0.6" height="4.7" fill="#e0b034"/>
<rect x="694.3" y="427.7" width="13" height="0.8" fill="#fbe08a"/>
<circle cx="700.9" cy="433.6" r="3.8" fill="#ffffff" fill-opacity="0.6" stroke="#2c62a4" stroke-width="1.4"/>
<path d="M703.7,436.4 L707,439.8" stroke="#2c62a4" stroke-width="1.8" stroke-linecap="round"/>
<rect x="693.9" y="491.3" width="13.8" height="4.7" fill="#f6c83c" stroke="#d9a628" stroke-width="0.7"/>
<rect x="697.35" y="491.3" width="0.6" height="4.7" fill="#e0b034"/>
<rect x="700.8" y="491.3" width="0.6" height="4.7" fill="#e0b034"/>
<rect x="704.25" y="491.3" width="0.6" height="4.7" fill="#e0b034"/>
<rect x="694.3" y="491.7" width="13" height="0.8" fill="#fbe08a"/>
<circle cx="700.9" cy="497.6" r="3.8" fill="#ffffff" fill-opacity="0.6" stroke="#2c62a4" stroke-width="1.4"/>
<path d="M703.7,500.4 L707,503.8" stroke="#2c62a4" stroke-width="1.8" stroke-linecap="round"/>
<text x="19.7" y="111.22" font-family='"Liberation Sans", sans-serif' font-size="5.6" stroke="#000018" stroke-width="0.12" fill="#000018" textLength="16.3" lengthAdjust="spacingAndGlyphs">tJava_1</text>
<text x="120.5" y="111.32" font-family='"Liberation Sans", sans-serif' font-size="5.6" stroke="#000018" stroke-width="0.12" fill="#000018" textLength="36.0" lengthAdjust="spacingAndGlyphs">"wrapup_detail"</text>
<text x="221.5" y="111.32" font-family='"Liberation Sans", sans-serif' font-size="5.6" stroke="#000018" stroke-width="0.12" fill="#000018" textLength="26.0" lengthAdjust="spacingAndGlyphs">tJavaRow_1</text>
<text x="345.5" y="111.32" font-family='"Liberation Sans", sans-serif' font-size="5.6" stroke="#000018" stroke-width="0.12" fill="#000018" textLength="33.0" lengthAdjust="spacingAndGlyphs">tLogCatcher_1</text>
<text x="472.6" y="111.32" font-family='"Liberation Sans", sans-serif' font-size="5.6" stroke="#000018" stroke-width="0.12" fill="#000018" textLength="33.0" lengthAdjust="spacingAndGlyphs">Log Exceptions</text>
<text x="739.8" y="127.22" font-family='"Liberation Sans", sans-serif' font-size="5.6" stroke="#000018" stroke-width="0.12" fill="#000018" textLength="16.2" lengthAdjust="spacingAndGlyphs">tJava_3</text>
<text x="17.8" y="239.22" font-family='"Liberation Sans", sans-serif' font-size="5.6" stroke="#000018" stroke-width="0.12" fill="#000018" textLength="17.6" lengthAdjust="spacingAndGlyphs">tLoop_1</text>
<text x="116" y="239.22" font-family='"Liberation Sans", sans-serif' font-size="5.6" stroke="#000018" stroke-width="0.12" fill="#000018" textLength="16.5" lengthAdjust="spacingAndGlyphs">tJava_2</text>
<text x="215.5" y="271.22" font-family='"Liberation Sans", sans-serif' font-size="5.6" stroke="#000018" stroke-width="0.12" fill="#000018" textLength="36.5" lengthAdjust="spacingAndGlyphs">"wrapup_detail"</text>
<text x="318" y="271.22" font-family='"Liberation Sans", sans-serif' font-size="5.6" stroke="#000018" stroke-width="0.12" fill="#000018" textLength="26.5" lengthAdjust="spacingAndGlyphs">tJavaRow_2</text>
<text x="400" y="271.22" font-family='"Liberation Sans", sans-serif' font-size="5.6" stroke="#000018" stroke-width="0.12" fill="#000018" textLength="48.3" lengthAdjust="spacingAndGlyphs">CustomerTagEvents</text>
<text x="526" y="271.22" font-family='"Liberation Sans", sans-serif' font-size="5.6" stroke="#000018" stroke-width="0.12" fill="#000018" textLength="26.0" lengthAdjust="spacingAndGlyphs">tJavaRow_3</text>
<text x="621.8" y="271.22" font-family='"Liberation Sans", sans-serif' font-size="5.6" stroke="#000018" stroke-width="0.12" fill="#000018" textLength="24.5" lengthAdjust="spacingAndGlyphs">tJavaFlex_1</text>
<text x="707" y="271.22" font-family='"Liberation Sans", sans-serif' font-size="5.6" stroke="#000018" stroke-width="0.12" fill="#000018" textLength="16.0" lengthAdjust="spacingAndGlyphs">tMap_1</text>
<text x="792.5" y="271.22" font-family='"Liberation Sans", sans-serif' font-size="5.6" stroke="#000018" stroke-width="0.12" fill="#000018" textLength="35.9" lengthAdjust="spacingAndGlyphs">"wrapup_detail"</text>
<text x="893" y="239.42" font-family='"Liberation Sans", sans-serif' font-size="5.6" stroke="#000018" stroke-width="0.12" fill="#000018" textLength="55.4" lengthAdjust="spacingAndGlyphs">WrapUps (Valid Records)</text>
<text x="888.3" y="319.22" font-family='"Liberation Sans", sans-serif' font-size="5.6" stroke="#000018" stroke-width="0.12" fill="#000018" textLength="64.0" lengthAdjust="spacingAndGlyphs">WrapUps (Rejected Records)</text>
<text x="176" y="479.22" font-family='"Liberation Sans", sans-serif' font-size="5.6" stroke="#000018" stroke-width="0.12" fill="#000018" textLength="48.4" lengthAdjust="spacingAndGlyphs">CustomerTagEvents</text>
<text x="301.9" y="479.22" font-family='"Liberation Sans", sans-serif' font-size="5.6" stroke="#000018" stroke-width="0.12" fill="#000018" textLength="26.9" lengthAdjust="spacingAndGlyphs">tJavaRow_4</text>
<text x="418" y="479.22" font-family='"Liberation Sans", sans-serif' font-size="5.6" stroke="#000018" stroke-width="0.12" fill="#000018" textLength="17.7" lengthAdjust="spacingAndGlyphs">tMap_2</text>
<text x="535.5" y="479.22" font-family='"Liberation Sans", sans-serif' font-size="5.6" stroke="#000018" stroke-width="0.12" fill="#000018" textLength="37.5" lengthAdjust="spacingAndGlyphs">"wrapup_detail"</text>
<text x="655.6" y="447.22" font-family='"Liberation Sans", sans-serif' font-size="5.6" stroke="#000018" stroke-width="0.12" fill="#000018" textLength="76.4" lengthAdjust="spacingAndGlyphs">wrapUpNotesOnly (Valid Records)</text>
<text x="650.8" y="511.32" font-family='"Liberation Sans", sans-serif' font-size="5.6" stroke="#000018" stroke-width="0.12" fill="#000018" textLength="85.5" lengthAdjust="spacingAndGlyphs">wrapUpNotesOnly (Rejected Records)</text>
<text x="60.7" y="103.22" font-family='"Liberation Sans", sans-serif' font-size="5.6" font-weight="bold" fill="#1a8c1a" textLength="40.3" lengthAdjust="spacingAndGlyphs">OnComponentOk</text>
<text x="170.7" y="103.22" font-family='"Liberation Sans", sans-serif' font-size="5.6" fill="#e0441f" textLength="30.1" lengthAdjust="spacingAndGlyphs">row12 (Main)</text>
<text x="410.6" y="103.22" font-family='"Liberation Sans", sans-serif' font-size="5.6" fill="#e0441f" textLength="30.4" lengthAdjust="spacingAndGlyphs">row11 (Main)</text>
<text x="5" y="167.22" font-family='"Liberation Sans", sans-serif' font-size="5.6" font-weight="bold" fill="#1a8c1a" textLength="40.0" lengthAdjust="spacingAndGlyphs">OnComponentOk</text>
<text x="69" y="231.32" font-family='"Liberation Sans", sans-serif' font-size="5.6" font-weight="bold" fill="#5aaa28" textLength="15.3" lengthAdjust="spacingAndGlyphs">Iterate</text>
<text x="157" y="247.12" font-family='"Liberation Sans", sans-serif' font-size="5.6" font-weight="bold" fill="#1a8c1a" textLength="40.0" lengthAdjust="spacingAndGlyphs">OnComponentOk</text>
<text x="267" y="263.22" font-family='"Liberation Sans", sans-serif' font-size="5.6" fill="#e0441f" textLength="29.6" lengthAdjust="spacingAndGlyphs">row12 (Main)</text>
<text x="345.5" y="263.22" font-family='"Liberation Sans", sans-serif' font-size="5.6" font-weight="bold" fill="#1a8c1a" textLength="60.5" lengthAdjust="spacingAndGlyphs">OnComponentOk(order:1)</text>
<text x="233" y="367.22" font-family='"Liberation Sans", sans-serif' font-size="5.6" font-weight="bold" fill="#1a8c1a" textLength="60.9" lengthAdjust="spacingAndGlyphs">OnComponentOk(order:2)</text>
<text x="757" y="191.22" font-family='"Liberation Sans", sans-serif' font-size="5.6" font-weight="bold" fill="#1a8c1a" textLength="40.0" lengthAdjust="spacingAndGlyphs">OnComponentOk</text>
<text x="469.5" y="263.22" font-family='"Liberation Sans", sans-serif' font-size="5.6" fill="#e0441f" textLength="25.5" lengthAdjust="spacingAndGlyphs">row2 (Main)</text>
<text x="572.7" y="263.22" font-family='"Liberation Sans", sans-serif' font-size="5.6" fill="#e0441f" textLength="27.1" lengthAdjust="spacingAndGlyphs">row3 (Main)</text>
<text x="661" y="263.22" font-family='"Liberation Sans", sans-serif' font-size="5.6" fill="#e0441f" textLength="27.0" lengthAdjust="spacingAndGlyphs">row4 (Main)</text>
<text x="735.4" y="263.22" font-family='"Liberation Sans", sans-serif' font-size="5.6" fill="#e0441f" textLength="50.9" lengthAdjust="spacingAndGlyphs">wrapupDetails (Main)</text>
<text x="843" y="247.42" font-family='"Liberation Sans", sans-serif' font-size="5.6" fill="#e0441f" textLength="44.6" lengthAdjust="spacingAndGlyphs">row5 (Main order:1)</text>
<text x="840" y="287.52" font-family='"Liberation Sans", sans-serif' font-size="5.6" fill="#ee1440" textLength="49.6" lengthAdjust="spacingAndGlyphs">row6 (Reject order:2)</text>
<text x="245" y="470.62" font-family='"Liberation Sans", sans-serif' font-size="5.6" fill="#e0441f" textLength="27.0" lengthAdjust="spacingAndGlyphs">row7 (Main)</text>
<text x="357.6" y="471.22" font-family='"Liberation Sans", sans-serif' font-size="5.6" fill="#e0441f" textLength="26.0" lengthAdjust="spacingAndGlyphs">row8 (Main)</text>
<text x="458.8" y="471.22" font-family='"Liberation Sans", sans-serif' font-size="5.6" fill="#e0441f" textLength="57.2" lengthAdjust="spacingAndGlyphs">wrapUpNotesOnly (Main)</text>
<text x="603" y="455.22" font-family='"Liberation Sans", sans-serif' font-size="5.6" fill="#e0441f" textLength="44.0" lengthAdjust="spacingAndGlyphs">row9 (Main order:1)</text>
<text x="599.4" y="487.32" font-family='"Liberation Sans", sans-serif' font-size="5.6" fill="#ee1440" textLength="52.6" lengthAdjust="spacingAndGlyphs">row10 (Reject order:2)</text>
</svg>
</body></html>
